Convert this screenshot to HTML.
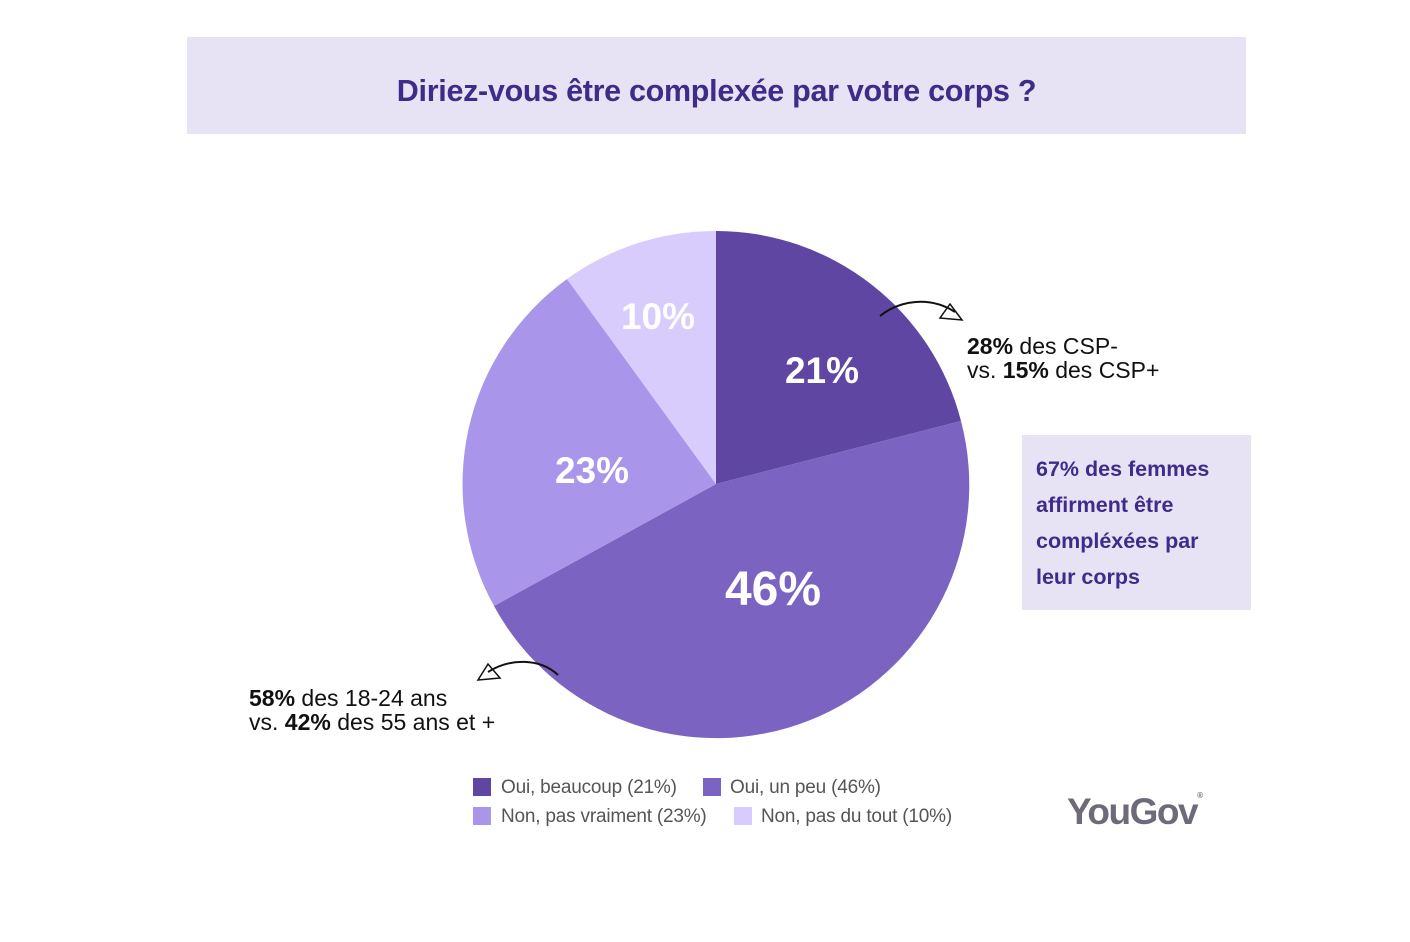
<!DOCTYPE html>
<html><head><meta charset="utf-8"><style>
body{margin:0;width:1410px;height:942px;background:#fff;position:relative;font-family:"Liberation Sans",sans-serif;overflow:hidden}
.hdr{position:absolute;left:187px;top:37px;width:1059px;height:97px;background:#E8E3F4}
.hdr div{position:absolute;left:0;right:0;top:37px;text-align:center;font-size:30.5px;font-weight:bold;color:#3E2B8A;letter-spacing:-0.3px}
.box{position:absolute;left:1022px;top:435px;width:229px;height:175px;background:#E8E3F4}
.box div{position:absolute;left:14px;top:16px;font-size:21.5px;font-weight:bold;color:#3E2B8A;line-height:36px}
.note{position:absolute;font-size:23px;color:#111;line-height:24px}
.leg{position:absolute;font-size:19px;color:#555;letter-spacing:-0.2px}
.sw{position:absolute;width:18px;height:18px}
</style></head><body>
<div class="hdr"><div>Diriez-vous être complexée par votre corps ?</div></div>
<svg width="1410" height="942" style="position:absolute;left:0;top:0">
<path d="M716 484 L716 231 A253 253 0 0 1 961 421 Z" fill="#5E46A2"/>
<path d="M716 484 L961 421 A253 253 0 0 1 494 606 Z" fill="#7B63C2"/>
<path d="M716 484 L494 606 A253 253 0 0 1 567 279 Z" fill="#A996EA"/>
<path d="M716 484 L567 279 A253 253 0 0 1 716 231 Z" fill="#D8CCFC"/>
<g font-family="Liberation Sans,sans-serif" font-weight="bold" fill="#fff" text-anchor="middle">
<text x="822" y="383" font-size="37">21%</text>
<text x="773" y="605" font-size="48">46%</text>
<text x="592" y="483" font-size="37">23%</text>
<text x="658" y="329" font-size="37">10%</text>
</g>
<path d="M880 316 C900 300 930 296 955 312" stroke="#111" stroke-width="2" fill="none"/>
<path d="M940 318 L962 320 L950 304 Z" stroke="#111" stroke-width="1.5" fill="none"/>
<path d="M558 675 C540 658 510 658 488 672" stroke="#111" stroke-width="2" fill="none"/>
<path d="M478 680 L500 678 L488 664 Z" stroke="#111" stroke-width="1.5" fill="none"/>
</svg>
<div class="note" style="left:967px;top:334px"><b>28%</b> des CSP-<br>vs. <b>15%</b> des CSP+</div>
<div class="note" style="left:249px;top:686px"><b>58%</b> des 18-24 ans<br>vs. <b>42%</b> des 55 ans et +</div>
<div class="box"><div>67% des femmes<br>affirment être<br>compléxées par<br>leur corps</div></div>
<div class="sw" style="left:473px;top:778px;background:#5E46A2"></div><div class="leg" style="left:501px;top:777px">Oui, beaucoup (21%)</div>
<div class="sw" style="left:703px;top:778px;background:#7B63C2"></div><div class="leg" style="left:730px;top:777px">Oui, un peu (46%)</div>
<div class="sw" style="left:473px;top:807px;background:#A996EA"></div><div class="leg" style="left:501px;top:806px">Non, pas vraiment (23%)</div>
<div class="sw" style="left:734px;top:807px;background:#D8CCFC"></div><div class="leg" style="left:761px;top:806px">Non, pas du tout (10%)</div>
<div style="position:absolute;left:1067px;top:791px;font-size:37px;font-weight:bold;color:#6E6A7A;letter-spacing:-1.5px">YouGov<span style="font-size:8px;vertical-align:top">®</span></div>
</body></html>
